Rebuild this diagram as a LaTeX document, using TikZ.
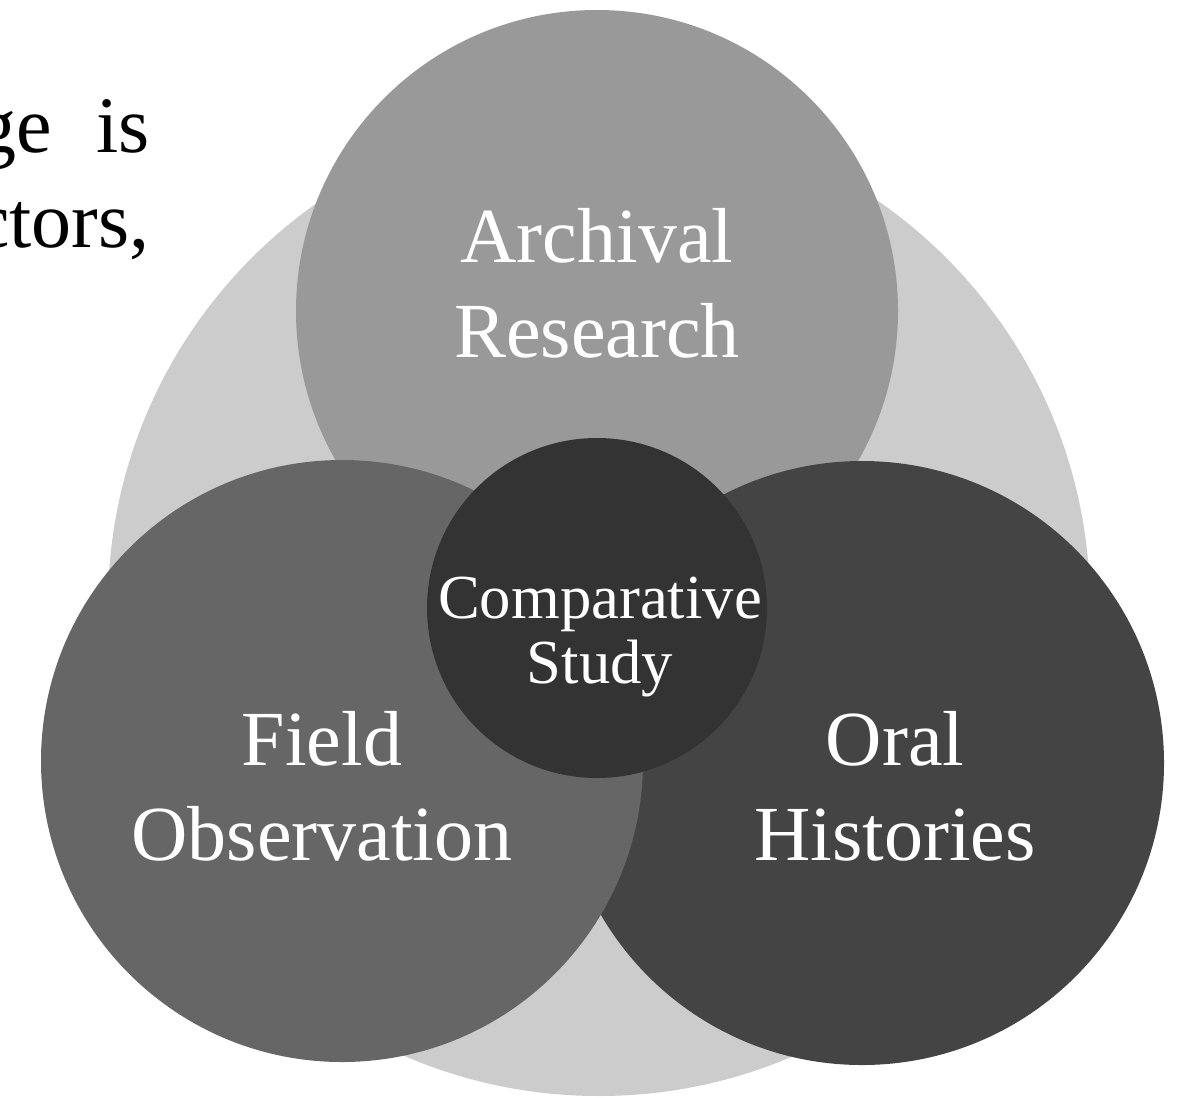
\documentclass[tikz,border=0pt]{standalone}
\usepackage{fontspec}
\setmainfont{Liberation Serif}

\definecolor{ringgray}{RGB}{204,204,204}
\definecolor{archgray}{RGB}{153,153,153}
\definecolor{fieldgray}{RGB}{102,102,102}
\definecolor{oralgray}{RGB}{68,68,68}
\definecolor{coregray}{RGB}{51,51,51}

\begin{document}
\begin{tikzpicture}[x=0.75pt,y=0.75pt,yscale=-1,xscale=1,
  biglabel/.style={text=white,align=center,inner sep=0pt,font=\fontsize{58.5}{71.25}\selectfont},
  corelabel/.style={text=white,align=center,inner sep=0pt,font=\fontsize{47}{48.75}\selectfont},
  bodytext/.style={text=black,inner sep=0pt,anchor=base east,font=\fontsize{60}{72}\selectfont}]
\useasboundingbox (0,0) rectangle (1191,1097);
\clip (0,0) rectangle (1191,1097);

%Outer ring
\fill [color=ringgray] (599,605) circle (491);

%Circles
\fill [color=archgray] (597,311) circle (301);
\fill [color=oralgray] (862,763) circle (302);
\fill [color=fieldgray] (342,761) circle (301);
\fill [color=coregray] (597,608) circle (170);

% Text Node
\node [bodytext] (line1) at (150,152) {ge\hspace{33pt}is};
% Text Node
\node [bodytext] (line2) at (150,247) {ctors,};

% Text Node
\node [biglabel] (archival) at (597,283) {Archival\\Research};
% Text Node
\node [biglabel] (field) at (322,786) {Field\\Observation};
% Text Node
\node [biglabel] (oral) at (895,786) {Oral\\Histories};
% Text Node
\node [corelabel] (core) at (600,637) {Comparative\\Study};

\end{tikzpicture}
\end{document}
